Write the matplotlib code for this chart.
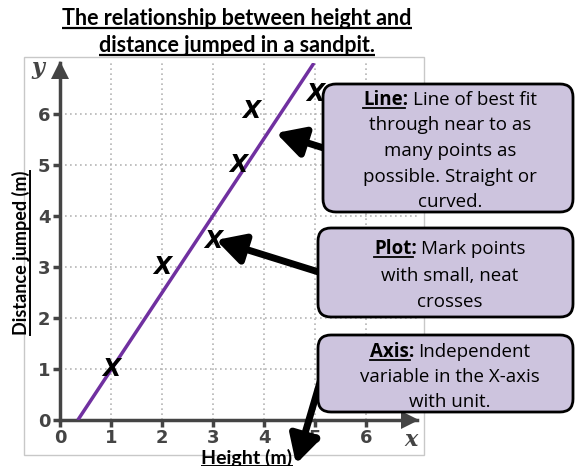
import matplotlib
matplotlib.use("Agg")
import matplotlib.pyplot as plt
from matplotlib.patches import FancyBboxPatch, Rectangle

W, H = 575, 466

# data
height_m = [1, 2, 3, 3.5, 3.75, 5]
distance_m = [1, 3, 3.5, 5, 6.05, 6.4]
fit_x = [0.35, 4.98]
fit_y = [0.0, 7.0]
tick_vals = [0, 1, 2, 3, 4, 5, 6]

title_lines = ["The relationship between height and", "distance jumped in a sandpit."]
x_label = "Height (m)"
y_label = "Distance jumped (m)"

callouts = [
    ("Line:", [" Line of best fit", "through near to as", "many points as",
               "possible. Straight or", "curved."]),
    ("Plot:", [" Mark points", "with small, neat", "crosses"]),
    ("Axis:", [" Independent", "variable in the X-axis", "with unit."]),
]

AXIS_C = "#444444"
LINE_C = "#7030a0"
BOX_C = "#cdc4de"
FONT = "Lato"
BOX_FONT = "Open Sans"

fig = plt.figure(figsize=(W / 100, H / 100), dpi=100)

# main chart
ax = fig.add_axes([60 / W, (H - 420) / H, 357 / W, 357 / H])
ax.set_xlim(0, 7)
ax.set_ylim(0, 7)
ax.set_xticks(tick_vals)
ax.set_yticks(tick_vals)
ax.set_xticklabels([str(t) for t in tick_vals], fontweight="bold")
ax.set_yticklabels([str(t) for t in tick_vals], fontweight="bold")
ax.tick_params(length=5, width=2.5, color=AXIS_C, labelcolor=AXIS_C,
               labelsize=13, pad=2)
ax.tick_params(axis="x", pad=1.5)
for s in ("top", "right"):
    ax.spines[s].set_visible(False)
for s in ("left", "bottom"):
    ax.spines[s].set_color(AXIS_C)
    ax.spines[s].set_linewidth(2.5)
ax.grid(True, ls=(0, (1, 2)), color="#b5b5b5", lw=1.2)
ax.set_axisbelow(True)
ax.patch.set_alpha(0)

ax.plot(0, 6.86, marker="^", ms=13, color=AXIS_C, clip_on=False, mew=0)
ax.plot(6.86, 0, marker=">", ms=13, color=AXIS_C, clip_on=False, mew=0)

ax.plot(fit_x, fit_y, color=LINE_C, lw=2.5, solid_capstyle="butt", zorder=3)
for hx, dy in zip(height_m, distance_m):
    ax.text(hx, dy, "X", ha="center", va="center", fontsize=17,
            style="italic", fontweight="bold", family="DejaVu Sans", zorder=4)

# overlay in pixel coordinates (y down)
ov = fig.add_axes([0, 0, 1, 1], zorder=5)
ov.set_xlim(0, W)
ov.set_ylim(H, 0)
ov.axis("off")
ov.patch.set_alpha(0)

fig.patches.append(Rectangle((24 / W, (H - 455) / H), 400 / W, 398 / H,
                             transform=fig.transFigure, fill=False,
                             ec="#c8c8c8", lw=1))

ov.text(38, 68, "y", ha="center", va="center", fontsize=16, style="italic",
        fontweight="bold", family="DejaVu Serif", color=AXIS_C)
ov.text(411, 440, "x", ha="center", va="center", fontsize=16, style="italic",
        fontweight="bold", family="DejaVu Serif", color=AXIS_C)

renderer = fig.canvas.get_renderer()


def underline(t, off=3, lw=1.5):
    bb = t.get_window_extent(renderer)
    ov.plot([bb.x0, bb.x1], [t.get_position()[1] + off] * 2,
            color="black", lw=lw, solid_capstyle="butt")


# title
for line, base in zip(title_lines, [25, 52]):
    t = ov.text(237, base, line, ha="center", va="baseline", fontsize=15.5,
                fontweight="bold", family=FONT)
    underline(t, off=3, lw=1.6)

# axis labels
t = ov.text(247, 464, x_label, ha="center", va="baseline", fontsize=14,
            fontweight="bold", family=FONT)
underline(t, off=2, lw=1.4)
t = ov.text(27, 253, y_label, ha="center", va="baseline", fontsize=13,
            fontweight="bold", family=FONT, rotation=90, rotation_mode="anchor")
bb = t.get_window_extent(renderer)
ov.plot([29.5, 29.5], [H - bb.y0, H - bb.y1], color="black", lw=1.4)

# arrows
arrows = [((276, 133), (330, 150)), ((216, 240), (325, 274)),
          ((296, 464), (323, 372))]
for tip, tail in arrows:
    ov.annotate("", xy=tip, xytext=tail,
                arrowprops=dict(arrowstyle="-|>,head_length=1.2,head_width=0.65",
                                lw=5, color="black", shrinkA=0, shrinkB=0,
                                mutation_scale=14), zorder=2)

# callout boxes
boxes = [(323, 84, 250, 128), (318, 228, 255, 89), (318, 335, 255, 77)]
baselines = [[105, 130.5, 156, 181.5, 207], [254, 281, 307], [357, 382, 407]]
cx = 450
for (bx, by, bw, bh), (bold, lines), bases in zip(boxes, callouts, baselines):
    ov.add_patch(FancyBboxPatch((bx, by), bw, bh,
                                boxstyle="round,pad=0,rounding_size=13",
                                fc=BOX_C, ec="black", lw=2, zorder=3))
    for i, (line, base) in enumerate(zip(lines, bases)):
        if i == 0:
            tb = ov.text(0, base, bold, ha="left", va="baseline", fontsize=13.5,
                         fontweight="bold", family=BOX_FONT, zorder=4)
            tr = ov.text(0, base, line.strip(), ha="left", va="baseline",
                         fontsize=13.5, family=BOX_FONT, zorder=4)
            wb = tb.get_window_extent(renderer).width
            wr = tr.get_window_extent(renderer).width
            gap = 4
            x0 = cx - (wb + gap + wr) / 2
            tb.set_x(x0)
            tr.set_x(x0 + wb + gap)
            ov.plot([x0, x0 + wb - 4], [base + 2.5] * 2, color="black",
                    lw=1.3, zorder=4)
        else:
            ov.text(cx, base, line, ha="center", va="baseline", fontsize=13.5,
                    family=BOX_FONT, zorder=4)

fig.savefig("out.png", dpi=100)
